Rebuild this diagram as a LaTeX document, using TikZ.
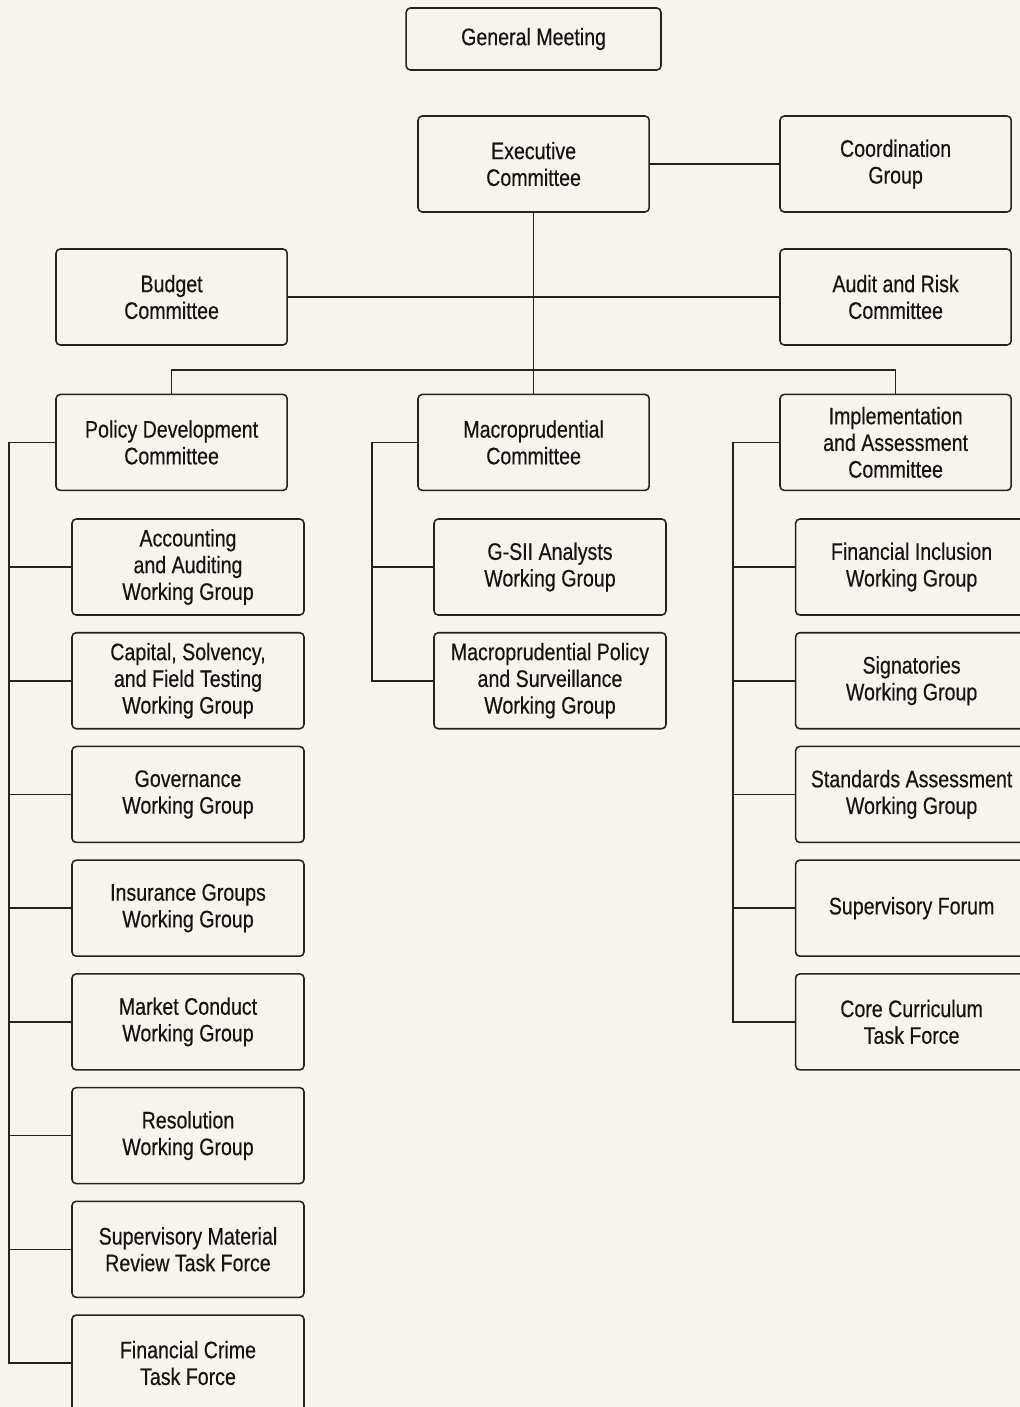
\documentclass[tikz,border=0pt]{standalone}
\usepackage{fontspec}
\setmainfont{Liberation Sans}[FakeStretch=0.82, UprightFeatures={FakeBold=0.35}]
\definecolor{bgcream}{RGB}{247, 244, 237}
\definecolor{inkgray}{RGB}{35, 35, 35}
\usetikzlibrary{positioning}

\begin{document}
\begin{tikzpicture}[
  orgbox/.style={rectangle, rounded corners=3pt, draw=inkgray, line width=1.1pt, fill=bgcream,
    minimum width=5.78cm, minimum height=2.4cm, align=center, text=black!92,
    font=\fontsize{17}{19}\selectfont},
  link/.style={draw=inkgray, line width=1.1pt}
]
\fill[bgcream] (0,0) rectangle (25.5,-35.175);
\useasboundingbox (0,0) rectangle (25.5,-35.175);

% top level
\node[orgbox, minimum width=6.37cm, minimum height=1.55cm] (gm) at (13.34,-0.975) {General Meeting};
\node[orgbox] (exec) at (13.34,-4.1) {Executive\\Committee};
\node[orgbox] (coord) at (22.39,-4.1) {Coordination\\Group};
\node[orgbox] (budget) at (4.29,-7.425) {Budget\\Committee};
\node[orgbox] (audit) at (22.39,-7.425) {Audit and Risk\\Committee};
\draw[link] (exec.east) -- (coord.west);
\draw[link] (budget.east) -- (audit.west);

% committees
\node[orgbox] (pol) at (4.29,-11.06) {Policy Development\\Committee};
\node[orgbox] (macro) at (13.34,-11.06) {Macroprudential\\Committee};
\node[orgbox] (impl) at (22.39,-11.06) {Implementation\\and Assessment\\Committee};
\coordinate (split) at (13.34,-9.25);
\draw[link] (exec.south) -- (split) -- (macro.north);
\draw[link] (pol.north) |- (split) -| (impl.north);

% working groups
\coordinate (lbus) at (0.225,0);
\coordinate (mbus) at (9.3,0);
\coordinate (rbus) at (18.325,0);
\foreach \i/\txt in {0/{Accounting\\and Auditing\\Working Group}, 1/{Capital, Solvency,\\and Field Testing\\Working Group},
  2/{Governance\\Working Group}, 3/{Insurance Groups\\Working Group}, 4/{Market Conduct\\Working Group},
  5/{Resolution\\Working Group}, 6/{Supervisory Material\\Review Task Force}, 7/{Financial Crime\\Task Force}} {
  \node[orgbox, minimum width=5.8cm] (pw\i) at (4.7,{-14.175-2.843*\i}) {\txt};
  \draw[link] (pol.west) -- (pol.west -| lbus) |- (pw\i.west);
}
\foreach \i/\txt in {0/{G-SII Analysts\\Working Group}, 1/{Macroprudential Policy\\and Surveillance\\Working Group}} {
  \node[orgbox, minimum width=5.8cm] (mw\i) at (13.75,{-14.175-2.843*\i}) {\txt};
  \draw[link] (macro.west) -- (macro.west -| mbus) |- (mw\i.west);
}
\foreach \i/\txt in {0/{Financial Inclusion\\Working Group}, 1/{Signatories\\Working Group},
  2/{Standards Assessment\\Working Group}, 3/{Supervisory Forum}, 4/{Core Curriculum\\Task Force}} {
  \node[orgbox, minimum width=5.8cm] (iw\i) at (22.79,{-14.175-2.843*\i}) {\txt};
  \draw[link] (impl.west) -- (impl.west -| rbus) |- (iw\i.west);
}
\end{tikzpicture}
\end{document}
